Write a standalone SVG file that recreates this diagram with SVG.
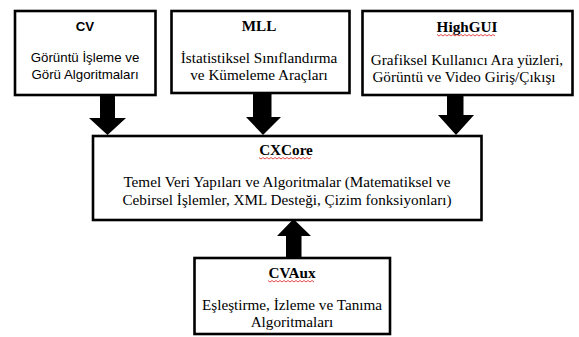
<svg xmlns="http://www.w3.org/2000/svg" width="579" height="337" viewBox="0 0 579 337">
<style>
.box{fill:#fff;stroke:#000;stroke-width:2.6}
.arr{fill:#000}
.sans{font-family:"Liberation Sans",Arial,sans-serif;font-size:13.3px;fill:#000;text-anchor:middle}
.serif{font-family:"Liberation Serif","Times New Roman",serif;font-size:15.2px;fill:#000;text-anchor:middle}
.b{font-weight:bold}
.sq{fill:none;stroke:#e02020;stroke-width:0.8}
</style>
<rect width="579" height="337" fill="#fff"/>
<g id="connectors">
<polygon class="arr" points="100,96 115,96 115,118 126,118 107.5,135 89,118 100,118"/>
<polygon class="arr" points="253,93 271.5,93 271.5,117 281,117 263,135 246,117 253,117"/>
<polygon class="arr" points="447,95 463.5,95 463.5,115 474,115 456,135 438,115 447,115"/>
<polygon class="arr" points="286,258 301.5,258 301.5,236 311,236 293.5,219 277,236 286,236"/>
</g>
<g id="cv">
<rect class="box" x="15" y="11" width="140.5" height="84"/>
<text class="sans b" x="85" y="31">CV</text>
<text class="sans" x="85" y="62">Görüntü İşleme ve</text>
<text class="sans" x="85" y="79">Görü Algoritmaları</text>
</g>
<g id="mll">
<rect class="box" x="171.5" y="11" width="178" height="82"/>
<text class="serif b" x="259" y="31">MLL</text>
<text class="serif" x="259" y="63">İstatistiksel Sınıflandırma</text>
<text class="serif" x="259" y="80">ve Kümeleme Araçları</text>
</g>
<g id="highgui">
<rect class="box" x="362.5" y="11" width="210" height="84"/>
<text class="serif b" x="467" y="32">HighGUI</text>
<path class="sq" d="M437,34.5 l2,1.5 l2,-1.5 l2,1.5 l2,-1.5 l2,1.5 l2,-1.5 l2,1.5 l2,-1.5 l2,1.5 l2,-1.5 l2,1.5 l2,-1.5 l2,1.5 l2,-1.5 l2,1.5 l2,-1.5 l2,1.5 l2,-1.5 l2,1.5 l2,-1.5 l2,1.5 l2,-1.5 l2,1.5 l2,-1.5 l2,1.5 l2,-1.5 l2,1.5 l2,-1.5 l2,1.5"/>
<text class="serif" x="467" y="65">Grafiksel Kullanıcı Ara yüzleri,</text>
<text class="serif" x="464" y="82">Görüntü ve Video Giriş/Çıkışı</text>
</g>
<g id="cxcore">
<rect class="box" x="93" y="136" width="388.5" height="84"/>
<text class="serif b" x="286" y="155">CXCore</text>
<path class="sq" d="M259,157.5 l2,1.5 l2,-1.5 l2,1.5 l2,-1.5 l2,1.5 l2,-1.5 l2,1.5 l2,-1.5 l2,1.5 l2,-1.5 l2,1.5 l2,-1.5 l2,1.5 l2,-1.5 l2,1.5 l2,-1.5 l2,1.5 l2,-1.5 l2,1.5 l2,-1.5 l2,1.5 l2,-1.5 l2,1.5 l2,-1.5 l2,1.5 l2,-1.5"/>
<text class="serif" x="287" y="187">Temel Veri Yapıları ve Algoritmalar (Matematiksel ve</text>
<text class="serif" x="287" y="205">Cebirsel İşlemler, XML Desteği, Çizim fonksiyonları)</text>
</g>
<g id="cvaux">
<rect class="box" x="194.5" y="258" width="195.5" height="76"/>
<text class="serif b" x="292" y="278">CVAux</text>
<path class="sq" d="M268,280.5 l2,1.5 l2,-1.5 l2,1.5 l2,-1.5 l2,1.5 l2,-1.5 l2,1.5 l2,-1.5 l2,1.5 l2,-1.5 l2,1.5 l2,-1.5 l2,1.5 l2,-1.5 l2,1.5 l2,-1.5 l2,1.5 l2,-1.5 l2,1.5 l2,-1.5 l2,1.5 l2,-1.5 l2,1.5"/>
<text class="serif" x="292" y="310">Eşleştirme, İzleme ve Tanıma</text>
<text class="serif" x="292" y="327">Algoritmaları</text>
</g>
</svg>
